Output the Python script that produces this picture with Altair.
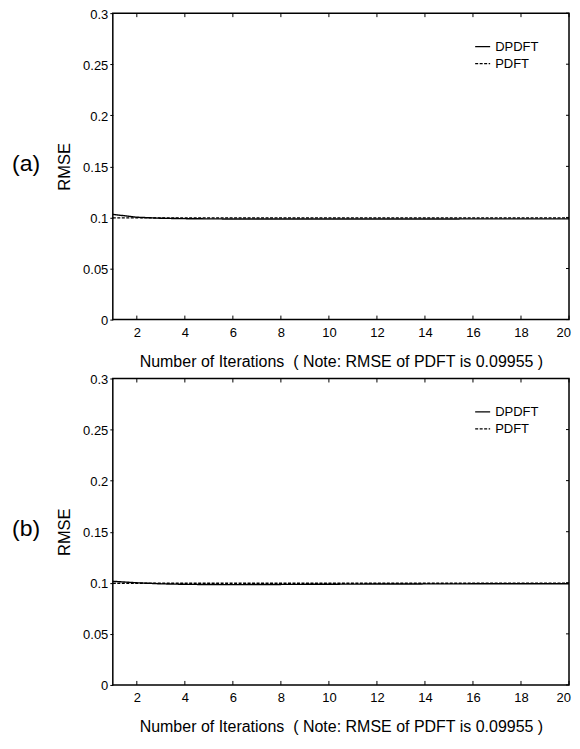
import altair as alt
import pandas as pd

iterations = list(range(1, 21))
dpdft_a = [0.1030, 0.1002, 0.0992, 0.0988, 0.0986, 0.0985, 0.0985, 0.0985, 0.0985, 0.0985,
           0.0985, 0.0985, 0.0985, 0.0985, 0.0985, 0.0986, 0.0986, 0.0986, 0.0986, 0.0986]
dpdft_b = [0.1015, 0.1000, 0.0990, 0.0985, 0.0983, 0.0982, 0.0983, 0.0984, 0.0985, 0.0986,
           0.0987, 0.0988, 0.0988, 0.0989, 0.0989, 0.0990, 0.0990, 0.0990, 0.0990, 0.0990]
pdft = [0.09955] * 20
series_names = ["DPDFT", "PDFT"]
panel_labels = ["(a)", "(b)"]
x_ticks = [2, 4, 6, 8, 10, 12, 14, 16, 18, 20]
y_ticks = [0, 0.05, 0.1, 0.15, 0.2, 0.25, 0.3]
x_title = "Number of Iterations\u00a0 ( Note: RMSE of PDFT is 0.09955 )"
y_title = "RMSE"

FONT = "Liberation Sans"
W, H = 457, 307


def panel(dp, label):
    df = pd.DataFrame({
        "iter": iterations * 2,
        "rmse": dp + pdft,
        "series": [series_names[0]] * 20 + [series_names[1]] * 20,
    })
    xs = alt.Scale(domain=[1, 20], nice=False, zero=False)
    ys = alt.Scale(domain=[0, 0.3], nice=False)
    lines = alt.Chart(df).mark_line(color="black", strokeWidth=1.4).encode(
        x=alt.X("iter:Q", scale=xs, axis=alt.Axis(
            values=x_ticks, orient="bottom", ticks=False, domain=False,
            grid=False, labelPadding=7, labelFlush=True, labelFlushOffset=1.5,
            title=x_title, titlePadding=14, labelFont=FONT, labelFontSize=13,
            titleFont=FONT, titleFontSize=16, titleFontWeight="normal",
            labelColor="black", titleColor="black")),
        y=alt.Y("rmse:Q", scale=ys, axis=alt.Axis(
            values=y_ticks, orient="left", tickSize=3, domain=False, grid=False,
            format="~g", labelPadding=2, labelOffset=1, title=y_title, titlePadding=10,
            labelFont=FONT, labelFontSize=13, titleFont=FONT, titleFontSize=16.5,
            titleFontWeight="normal", tickColor="black", labelColor="black",
            titleColor="black")),
        strokeDash=alt.StrokeDash("series:N", scale=alt.Scale(
            domain=series_names, range=[[1, 0], [3, 1.5]]),
            legend=alt.Legend(orient="none", legendX=362, legendY=25, title=None,
                              symbolType="stroke", symbolSize=225,
                              symbolStrokeColor="black", symbolStrokeWidth=1.3,
                              labelFont=FONT, labelFontSize=13, labelColor="black",
                              labelOffset=4, rowPadding=1, padding=0)),
    )
    xt = pd.DataFrame({"v": x_ticks})
    yt = pd.DataFrame({"v": y_ticks})
    top_ticks = alt.Chart(xt).mark_rule(color="black", strokeWidth=1).encode(
        x=alt.X("v:Q", scale=xs), y=alt.value(0), y2=alt.value(4))
    bottom_ticks = alt.Chart(xt).mark_rule(color="black", strokeWidth=1).encode(
        x=alt.X("v:Q", scale=xs), y=alt.value(H - 4), y2=alt.value(H))
    right_ticks = alt.Chart(yt).mark_rule(color="black", strokeWidth=1).encode(
        y=alt.Y("v:Q", scale=ys), x=alt.value(W - 3), x2=alt.value(W))
    one = pd.DataFrame({"t": [label]})
    frame = alt.Chart(one).mark_rect(
        fillOpacity=0, stroke="black", strokeWidth=1.5
    ).encode(x=alt.value(0), x2=alt.value(W), y=alt.value(0), y2=alt.value(H))
    tag = alt.Chart(one).mark_text(
        font=FONT, fontSize=23, align="left", baseline="middle", color="black"
    ).encode(text="t:N", x=alt.value(-101), y=alt.value(151))
    return alt.layer(lines, top_ticks, bottom_ticks, right_ticks, frame, tag
                     ).properties(width=W, height=H)


chart = alt.vconcat(panel(dpdft_a, panel_labels[0]), panel(dpdft_b, panel_labels[1]),
                    spacing=4).resolve_scale(strokeDash="independent").resolve_legend(
    strokeDash="independent").properties(
    padding={"top": -0.5, "left": 4, "right": 0, "bottom": 0},
    background="white"
).configure_view(stroke=None)

chart.save("out.html", embed_options={"renderer": "svg", "actions": False})
